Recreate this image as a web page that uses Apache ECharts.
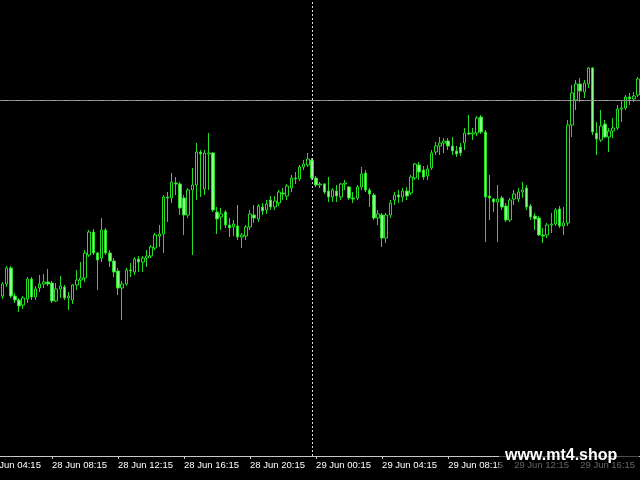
<!DOCTYPE html>
<html>
<head>
<meta charset="utf-8">
<script src="https://cdn.jsdelivr.net/npm/echarts@6/dist/echarts.min.js"></script>
<style>html,body{margin:0;padding:0;background:#000;overflow:hidden;width:640px;height:480px;}
#c{position:absolute;left:-17px;top:0;width:657px;height:480px;}</style>
</head>
<body>
<div id="c"></div>
<script>
// 15-minute bars, first bar 28 Jun 05:15 (4 empty leading slots from 04:15 keep the axis running off the left edge)
const leadingEmpty = 4;
const opens = [
1.1104,1.1116,1.1132,1.1104,1.1100,1.1095,1.1101,1.1121,1.1103,1.1112,
1.1116,1.1118,1.1117,1.1099,1.1111,1.1113,1.1102,1.1100,1.1115,1.1120,
1.1122,1.1145,1.1168,1.1147,1.1142,1.1170,1.1147,1.1139,1.1129,1.1112,
1.1116,1.1130,1.1128,1.1141,1.1138,1.1142,1.1144,1.1152,1.1164,1.1166,
1.1203,1.1202,1.1217,1.1216,1.1202,1.1185,1.1210,1.1215,1.1248,1.1211,
1.1246,1.1247,1.1188,1.1183,1.1188,1.1175,1.1173,1.1174,1.1163,1.1164,
1.1173,1.1185,1.1181,1.1193,1.1190,1.1200,1.1193,1.1197,1.1207,1.1204,
1.1212,1.1222,1.1221,1.1233,1.1235,1.1240,1.1222,1.1215,1.1216,1.1209,
1.1203,1.1209,1.1203,1.1216,1.1213,1.1202,1.1202,1.1213,1.1227,1.1210,
1.1205,1.1182,1.1185,1.1162,1.1185,1.1200,1.1205,1.1203,1.1209,1.1207,
1.1222,1.1235,1.1230,1.1224,1.1232,1.1248,1.1254,1.1257,1.1259,1.1254,
1.1249,1.1253,1.1257,1.1267,1.1266,1.1267,1.1283,1.1268,1.1204,1.1201,
1.1198,1.1202,1.1194,1.1180,1.1201,1.1201,1.1208,1.1212,1.1194,1.1184,
1.1182,1.1165,1.1165,1.1175,1.1176,1.1191,1.1174,1.1177,1.1275,1.1300,
1.1316,1.1308,1.1316,1.1332,1.1267,1.1260,1.1276,1.1263,1.1269,1.1272,
1.1291,1.1292,1.1303,1.1301,1.1305];
const closes = [
1.1116,1.1132,1.1104,1.1100,1.1094,1.1102,1.1121,1.1103,1.1111,1.1116,
1.1118,1.1116,1.1099,1.1111,1.1114,1.1102,1.1104,1.1115,1.1120,1.1122,
1.1147,1.1168,1.1147,1.1140,1.1170,1.1147,1.1139,1.1128,1.1112,1.1116,
1.1130,1.1129,1.1141,1.1138,1.1142,1.1144,1.1153,1.1165,1.1166,1.1203,
1.1202,1.1218,1.1216,1.1192,1.1185,1.1210,1.1215,1.1248,1.1246,1.1247,
1.1247,1.1190,1.1181,1.1186,1.1175,1.1172,1.1176,1.1163,1.1165,1.1173,
1.1186,1.1182,1.1194,1.1189,1.1196,1.1193,1.1199,1.1208,1.1206,1.1214,
1.1222,1.1221,1.1233,1.1236,1.1241,1.1222,1.1215,1.1216,1.1208,1.1203,
1.1210,1.1204,1.1216,1.1217,1.1202,1.1201,1.1213,1.1226,1.1210,1.1206,
1.1182,1.1186,1.1162,1.1185,1.1197,1.1205,1.1203,1.1209,1.1204,1.1223,
1.1236,1.1228,1.1223,1.1231,1.1247,1.1254,1.1257,1.1259,1.1254,1.1249,
1.1246,1.1247,1.1267,1.1266,1.1267,1.1282,1.1268,1.1203,1.1202,1.1198,
1.1201,1.1193,1.1180,1.1200,1.1206,1.1208,1.1210,1.1193,1.1183,1.1181,
1.1165,1.1164,1.1175,1.1176,1.1190,1.1174,1.1177,1.1275,1.1307,1.1316,
1.1309,1.1317,1.1332,1.1268,1.1261,1.1274,1.1263,1.1269,1.1272,1.1291,
1.1292,1.1303,1.1301,1.1304,1.1321];
const lows = [
1.1101,1.1113,1.1102,1.1097,1.1088,1.1091,1.1097,1.1100,1.1100,1.1108,
1.1112,1.1114,1.1097,1.1098,1.1102,1.1100,1.1090,1.1096,1.1110,1.1112,
1.1118,1.1143,1.1145,1.1110,1.1138,1.1145,1.1133,1.1123,1.1105,1.1080,
1.1114,1.1123,1.1125,1.1128,1.1128,1.1133,1.1142,1.1150,1.1153,1.1147,
1.1178,1.1197,1.1205,1.1185,1.1165,1.1182,1.1145,1.1200,1.1203,1.1205,
1.1210,1.1188,1.1166,1.1170,1.1172,1.1163,1.1164,1.1160,1.1152,1.1160,
1.1170,1.1177,1.1178,1.1185,1.1186,1.1190,1.1190,1.1194,1.1200,1.1200,
1.1208,1.1216,1.1219,1.1230,1.1233,1.1220,1.1213,1.1212,1.1206,1.1198,
1.1198,1.1198,1.1200,1.1210,1.1200,1.1197,1.1200,1.1210,1.1208,1.1193,
1.1180,1.1175,1.1153,1.1157,1.1182,1.1195,1.1197,1.1198,1.1200,1.1205,
1.1220,1.1220,1.1220,1.1220,1.1230,1.1245,1.1245,1.1247,1.1250,1.1245,
1.1243,1.1244,1.1250,1.1265,1.1260,1.1264,1.1266,1.1158,1.1180,1.1188,
1.1158,1.1190,1.1178,1.1178,1.1195,1.1198,1.1202,1.1190,1.1180,1.1170,
1.1164,1.1157,1.1162,1.1167,1.1174,1.1172,1.1165,1.1174,1.1263,1.1290,
1.1298,1.1302,1.1312,1.1265,1.1245,1.1258,1.1262,1.1248,1.1262,1.1270,
1.1278,1.1290,1.1295,1.1298,1.1303];
const highs = [
1.1118,1.1134,1.1134,1.1107,1.1102,1.1104,1.1123,1.1123,1.1114,1.1125,
1.1126,1.1131,1.1119,1.1117,1.1124,1.1115,1.1108,1.1116,1.1130,1.1138,
1.1150,1.1170,1.1171,1.1148,1.1182,1.1172,1.1150,1.1142,1.1132,1.1119,
1.1132,1.1137,1.1143,1.1144,1.1144,1.1150,1.1155,1.1167,1.1175,1.1205,
1.1208,1.1227,1.1223,1.1218,1.1205,1.1212,1.1232,1.1257,1.1250,1.1250,
1.1267,1.1248,1.1193,1.1192,1.1190,1.1182,1.1180,1.1195,1.1167,1.1175,
1.1190,1.1195,1.1196,1.1197,1.1200,1.1204,1.1204,1.1210,1.1212,1.1216,
1.1225,1.1228,1.1235,1.1240,1.1247,1.1242,1.1224,1.1218,1.1217,1.1223,
1.1212,1.1215,1.1217,1.1220,1.1214,1.1208,1.1215,1.1233,1.1230,1.1212,
1.1207,1.1190,1.1187,1.1187,1.1200,1.1208,1.1210,1.1212,1.1213,1.1225,
1.1237,1.1238,1.1234,1.1235,1.1250,1.1258,1.1263,1.1262,1.1262,1.1263,
1.1254,1.1257,1.1272,1.1285,1.1272,1.1284,1.1285,1.1270,1.1225,1.1202,
1.1215,1.1204,1.1197,1.1202,1.1210,1.1212,1.1218,1.1215,1.1196,1.1187,
1.1184,1.1172,1.1177,1.1187,1.1192,1.1194,1.1193,1.1280,1.1315,1.1320,
1.1322,1.1320,1.1333,1.1333,1.1278,1.1290,1.1280,1.1272,1.1282,1.1295,
1.1300,1.1305,1.1307,1.1308,1.1323];
const bidLine = 1.1303;
const askLine = 1.1301;
const daySeparator = '29 Jun 00:00';
const yMin = 1.0944, yMax = 1.1400;

// categories: 28 Jun 04:15 onward, 15-minute steps
const categories = [];
const total = leadingEmpty + opens.length;
for (let k = 0; k < total; k++) {
  const m = 4 * 60 + 15 + k * 15;
  const day = 28 + Math.floor(m / 1440);
  const mm = m % 1440;
  const hh = String(Math.floor(mm / 60)).padStart(2, '0');
  const mi = String(mm % 60).padStart(2, '0');
  categories.push(day + ' Jun ' + hh + ':' + mi);
}
const candles = categories.map((c, k) => k < leadingEmpty ? '-' :
  [opens[k - leadingEmpty], closes[k - leadingEmpty], lows[k - leadingEmpty], highs[k - leadingEmpty]]);

const shift = 17; // the container starts 17px left of the window
const chart = echarts.init(document.getElementById('c'), null, {renderer: 'canvas'});
const showTick = (i) => i % 16 === 0;
chart.setOption({
  backgroundColor: '#000000',
  animation: false,
  grid: {left: 0, right: 0, top: 0, bottom: 24},
  xAxis: {
    type: 'category', data: categories, boundaryGap: true,
    axisLine: {lineStyle: {color: '#c8c8c8', width: 1}},
    axisTick: {show: true, interval: showTick, alignWithLabel: true, length: 3, lineStyle: {color: '#c8c8c8'}},
    axisLabel: {interval: showTick, color: '#ffffff', fontFamily: 'Liberation Sans', fontSize: 9.5,
      align: 'left', margin: 4, hideOverlap: false},
    splitLine: {show: false}
  },
  yAxis: {type: 'value', min: yMin, max: yMax, show: false, splitLine: {show: false}},
  series: [{
    type: 'candlestick', data: candles, barWidth: 3,
    itemStyle: {color: '#000000', color0: '#8cff8c', borderColor: '#22dd22', borderColor0: '#22dd22', borderWidth: 1},
    markLine: {
      silent: true, symbol: 'none', label: {show: false}, animation: false,
      data: [
        {xAxis: daySeparator, lineStyle: {color: '#d8d8d8', type: [2, 2], width: 1}},
        {yAxis: bidLine, lineStyle: {color: '#a0a0a0', type: 'solid', width: 1}},
        {yAxis: askLine, lineStyle: {color: '#8a8a8a', type: [8, 4], width: 1}}
      ]
    }
  }],
  graphic: [
    {type: 'rect', z: 100, shape: {x: 499 + shift, y: 444, width: 140, height: 36}, style: {fill: 'rgba(0,0,0,0.62)'}},
    {type: 'text', z: 101, x: 505 + shift, y: 456, style: {text: 'www.mt4.shop', fill: '#ffffff',
      font: 'bold 16px "Liberation Sans"', verticalAlign: 'middle', align: 'left'}}
  ]
});
</script>
</body>
</html>
